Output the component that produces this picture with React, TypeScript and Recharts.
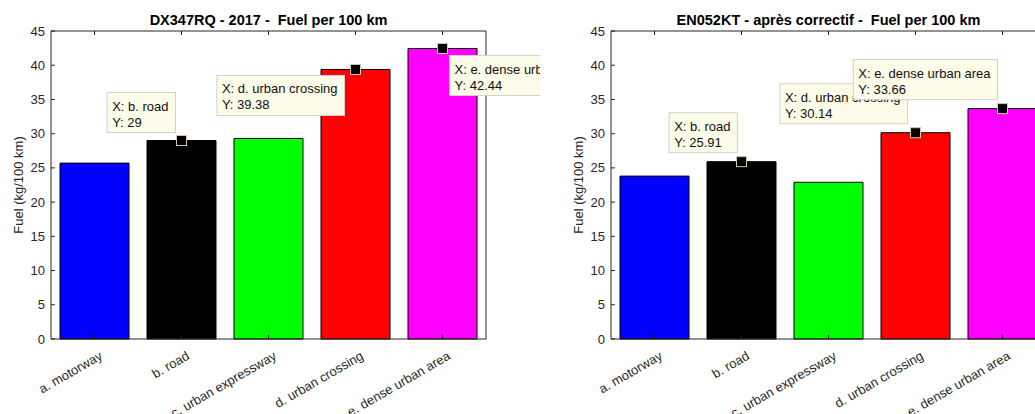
import { BarChart, Bar, XAxis, YAxis, Cell, LabelList } from "recharts";

const categories = ["a. motorway", "b. road", "c. urban expressway", "d. urban crossing", "e. dense urban area"];
const fuel2017 = [25.7, 29, 29.3, 39.38, 42.44];
const fuelAfter = [23.8, 25.91, 22.9, 30.14, 33.66];
const barColors = ["#0000ff", "#000000", "#00ff00", "#ff0000", "#ff00ff"];
const yTicks = [0, 5, 10, 15, 20, 25, 30, 35, 40, 45];

const FONT = '"Liberation Sans", Arial, Helvetica, sans-serif';
const INK = "#262626";

// datatip placement relative to the marker (side of the box, horizontal gap, vertical offset)
type Tip = { index: number; side: "left" | "right"; gap: number; dy: number };
const tipsLeft: Tip[] = [
  { index: 1, side: "left", gap: 6, dy: -48 },
  { index: 3, side: "left", gap: 11, dy: 6 },
  { index: 4, side: "right", gap: 7, dy: 7 },
];
const tipsRight: Tip[] = [
  { index: 1, side: "left", gap: 4, dy: -49 },
  { index: 3, side: "left", gap: 8, dy: -49 },
  { index: 4, side: "left", gap: 5, dy: -49 },
];

let ctx: CanvasRenderingContext2D | null = null;
function textWidth(s: string) {
  if (!ctx) ctx = document.createElement("canvas").getContext("2d");
  if (!ctx) return s.length * 6;
  ctx.font = `13px ${FONT}`;
  return ctx.measureText(s).width;
}

const makeTip = (tips: Tip[]) => (props: any) => {
  const tip = tips.find((t) => t.index === props.index);
  if (!tip) return null;
  const vb = props.viewBox ?? props;
  const x = vb.x ?? props.x;
  const y = vb.y ?? props.y;
  const w = vb.width ?? props.width;
  const mx = x + w / 2;
  const my = y;
  const l1 = `X: ${categories[props.index]}`;
  const l2 = `Y: ${props.value}`;
  const bw = Math.max(textWidth(l1), textWidth(l2)) + 12;
  const bh = 40;
  const left = tip.side === "left" ? mx - tip.gap - bw : mx + tip.gap;
  const top = my + tip.dy;
  return (
    <g>
      <rect x={mx - 5} y={my - 5} width={10} height={10} fill="#000" stroke="#cfc9a8" strokeWidth={1} />
      <rect x={left} y={top} width={bw} height={bh} fill="#fcfce8" stroke="#d2d2d2" strokeWidth={1} />
      <text x={left + 5} y={top + 18} fontSize={13} fontFamily={FONT} fill="#111">{l1}</text>
      <text x={left + 5} y={top + 34} fontSize={13} fontFamily={FONT} fill="#111">{l2}</text>
    </g>
  );
};

const LeftTick = (p: any) => (
  <g>
    <line x1={p.x + 6} y1={p.y} x2={p.x + 10} y2={p.y} stroke={INK} />
    <text x={p.x} y={p.y} textAnchor="end" dominantBaseline="central" fontSize={13} fontFamily={FONT} fill={INK}>
      {p.payload.value}
    </text>
  </g>
);
const RightTick = (p: any) => <line x1={p.x} y1={p.y} x2={p.x - 4} y2={p.y} stroke={INK} />;
const TopTick = (p: any) => <line x1={p.x} y1={p.y} x2={p.x} y2={p.y + 4} stroke={INK} />;
const BottomTick = (p: any) => (
  <g>
    <line x1={p.x} y1={p.y} x2={p.x} y2={p.y - 4} stroke={INK} />
    <text
      transform={`translate(${p.x + 4},${p.y + 11}) rotate(-30)`}
      textAnchor="end"
      dy="0.75em"
      fontSize={13}
      fontFamily={FONT}
      fill={INK}
    >
      {p.payload.value}
    </text>
  </g>
);

function FuelChart({ title, values, tips }: { title: string; values: number[]; tips: Tip[] }) {
  const data = categories.map((c, i) => ({ cat: c, v: values[i] }));
  return (
    <BarChart width={540} height={414} data={data} margin={{ top: 0, right: 0, left: 0, bottom: 0 }}>
      <XAxis
        dataKey="cat"
        height={75}
        interval={0}
        tickSize={0}
        tickMargin={0}
        stroke={INK}
        tick={<BottomTick />}
      />
      <XAxis
        xAxisId="top"
        dataKey="cat"
        orientation="top"
        height={31}
        interval={0}
        tickSize={0}
        tickMargin={0}
        stroke={INK}
        tick={<TopTick />}
        label={{
          content: (lp: any) => {
            const vb = lp.viewBox;
            return (
              <text x={vb.x + vb.width / 2} y={25} textAnchor="middle" fontSize={14.5} fontWeight="bold" fontFamily={FONT} fill="#000" xmlSpace="preserve">
                {title}
              </text>
            );
          },
        }}
      />
      <YAxis
        width={51}
        domain={[0, 45]}
        ticks={yTicks}
        tickSize={0}
        tickMargin={6}
        stroke={INK}
        tick={<LeftTick />}
        label={{
          content: (lp: any) => {
            const vb = lp.viewBox;
            const cy = vb.y + vb.height / 2;
            return (
              <text transform={`translate(18,${cy}) rotate(-90)`} textAnchor="middle" dominantBaseline="central" fontSize={13} fontFamily={FONT} fill={INK}>
                Fuel (kg/100 km)
              </text>
            );
          },
        }}
      />
      <YAxis
        yAxisId="r"
        orientation="right"
        width={54}
        domain={[0, 45]}
        ticks={yTicks}
        tickSize={0}
        tickMargin={0}
        stroke={INK}
        tick={<RightTick />}
      />
      <Bar dataKey="v" barSize={69} stroke="#000" strokeWidth={1} isAnimationActive={false}>
        {data.map((d, i) => (
          <Cell key={d.cat} fill={barColors[i]} />
        ))}
        <LabelList dataKey="v" content={makeTip(tips)} />
      </Bar>
    </BarChart>
  );
}

export default function App() {
  return (
    <div style={{ position: "fixed", left: 0, top: 0, width: 1035, height: 414, overflow: "hidden", background: "#fff" }}>
      <div style={{ position: "absolute", left: 0, top: 0 }}>
        <FuelChart title="DX347RQ - 2017 -  Fuel per 100 km" values={fuel2017} tips={tipsLeft} />
      </div>
      <div style={{ position: "absolute", left: 560, top: 0 }}>
        <FuelChart title="EN052KT - après correctif -  Fuel per 100 km" values={fuelAfter} tips={tipsRight} />
      </div>
    </div>
  );
}
